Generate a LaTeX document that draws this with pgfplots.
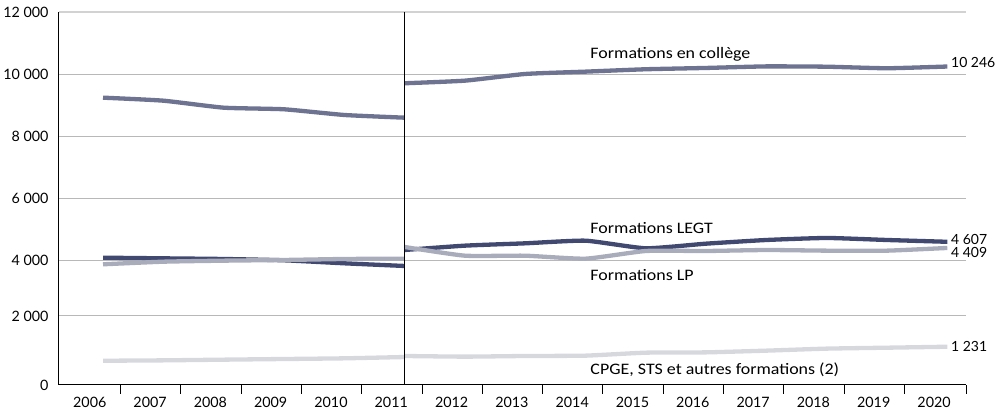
\documentclass[border=0pt]{standalone}
\usepackage{pgfplots}
\pgfplotsset{compat=1.18}
\usepackage{fontspec}
\setmainfont{Lato}
\newfontfamily\calib[FakeStretch=1.12]{Carlito}
\definecolor{college}{HTML}{6E7391}
\definecolor{legt}{HTML}{424971}
\definecolor{lp}{HTML}{A9ACBB}
\definecolor{cpge}{HTML}{D6D8DE}
\definecolor{gridgrey}{HTML}{B8B8B8}
\definecolor{gridlight}{HTML}{D2D2D2}
\begin{document}
\begin{tikzpicture}
\useasboundingbox (-59pt,-29pt) rectangle (945pt,385pt);
\begin{axis}[
  at={(0,0)}, anchor=south west,
  scale only axis, width=907pt, height=373pt,
  xmin=2005.27, xmax=2020.31, ymin=0, ymax=12000,
  scaled x ticks=false, scaled y ticks=false,
  axis x line*=bottom, axis y line*=left,
  axis line style={black, line width=1pt},
  clip=false,
  xtick={2006.29,2007.29,2008.29,2009.29,2010.29,2011.29,2012.29,2013.29,2014.29,2015.29,2016.29,2017.29,2018.29,2019.29,2020.31},
  xticklabels={},
  x tick style={black, line width=1pt},
  tick align=outside,
  xtick pos=bottom,
  major tick length=9pt,
  extra x ticks={2005.78,2006.78,2007.78,2008.78,2009.78,2010.78,2011.78,2012.78,2013.78,2014.78,2015.78,2016.78,2017.78,2018.78,2019.78},
  extra x tick labels={2006,2007,2008,2009,2010,2011,2012,2013,2014,2015,2016,2017,2018,2019,2020},
  extra x tick style={major tick length=0pt, xticklabel style={yshift=-9pt}},
  ytick={0,2220,4000,6000,8000,10000},
  yticklabels={0,2 000,4 000,6 000,8 000,10 000},
  extra y ticks={12000},
  extra y tick labels={12 000},
  extra y tick style={grid style={color=gridlight, line width=1.2pt}},
  y tick style={draw=none},
  ymajorgrids,
  grid style={color=gridgrey, line width=1pt},
  tick label style={font=\fontsize{14.3}{17}\selectfont, text=black},
  yticklabel style={xshift=2pt},
  every axis plot/.append style={line width=4.3pt, line join=round, smooth, tension=0.3},
]
% CPGE, STS et autres formations
\addplot[cpge] coordinates {(2006,780) (2007,793) (2008,815) (2009,836) (2010,858) (2011,900)};
\addplot[cpge] coordinates {(2011,933) (2012,912) (2013,933) (2014,944) (2015,1040) (2016,1050) (2017,1105) (2018,1170) (2019,1200) (2020,1231)};
% LEGT
\addplot[legt] coordinates {(2006,4096) (2007,4075) (2008,4054) (2009,4012) (2010,3915) (2011,3829)};
\addplot[legt] coordinates {(2011,4343) (2012,4483) (2013,4558) (2014,4643) (2015,4398) (2016,4547) (2017,4665) (2018,4730) (2019,4665) (2020,4607)};
% LP
\addplot[lp] coordinates {(2006,3883) (2007,3967) (2008,4000) (2009,4022) (2010,4054) (2011,4064)};
\addplot[lp] coordinates {(2011,4440) (2012,4160) (2013,4160) (2014,4064) (2015,4311) (2016,4311) (2017,4343) (2018,4322) (2019,4322) (2020,4409)};
% College
\addplot[college] coordinates {(2006,9244) (2007,9147) (2008,8922) (2009,8870) (2010,8687) (2011,8600)};
\addplot[college] coordinates {(2011,9707) (2012,9791) (2013,10006) (2014,10081) (2015,10158) (2016,10200) (2017,10250) (2018,10240) (2019,10190) (2020,10246)};
% separator
\addplot[black, line width=1pt, sharp plot] coordinates {(2011,0) (2011,12000)};
% annotations
\node[anchor=west, inner sep=0pt, font=\calib\fontsize{16}{19}\selectfont] at (axis cs:2014.08,10650) {Formations en collège};
\node[anchor=west, inner sep=0pt, font=\calib\fontsize{16}{19}\selectfont] at (axis cs:2014.08,5060) {Formations LEGT};
\node[anchor=west, inner sep=0pt, font=\calib\fontsize{16}{19}\selectfont] at (axis cs:2014.08,3540) {Formations LP};
\node[anchor=west, inner sep=0pt, font=\calib\fontsize{16}{19}\selectfont] at (axis cs:2014.08,480) {CPGE, STS et autres formations (2)};
\node[anchor=west, inner sep=0pt, font=\fontsize{14}{16}\selectfont] at (axis cs:2020.06,10360) {10 246};
\node[anchor=west, inner sep=0pt, font=\fontsize{14}{16}\selectfont] at (axis cs:2020.06,4697) {4 607};
\node[anchor=west, inner sep=0pt, font=\fontsize{14}{16}\selectfont] at (axis cs:2020.06,4279) {4 409};
\node[anchor=west, inner sep=0pt, font=\fontsize{14}{16}\selectfont] at (axis cs:2020.06,1255) {1 231};
\end{axis}
\end{tikzpicture}
\end{document}
